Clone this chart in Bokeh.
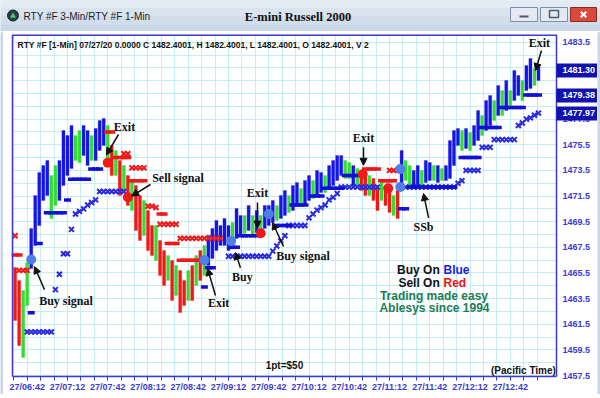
from bokeh.plotting import figure
from bokeh.models import (Range1d, FixedTicker, LinearAxis, Grid, Arrow, NormalHead,
                          ColumnDataSource, NumeralTickFormatter)
from bokeh.layouts import column, row
from bokeh.embed import file_html
from bokeh.resources import INLINE
from bokeh.core.properties import value

# ---------------- data (time = minutes after 06:42, price in points) ----------------
bar_time = [-9, -6, -3, 0, 3, 6, 9, 12, 15, 18, 21, 24, 27, 30, 33, 36, 39, 42, 45, 48,
            51, 54, 57, 60, 63, 66, 69, 72, 75, 78, 81, 84, 87, 90, 93, 96, 99, 102, 105, 108,
            111, 114, 117, 120, 123, 126, 129, 132, 135, 138, 141, 144, 147, 150, 153, 156, 159, 162, 165, 168,
            171, 174, 177, 180, 183, 186, 189, 192, 195, 198, 201, 204, 207, 210, 213, 216, 219, 222, 225, 228,
            231, 234, 237, 240, 243, 246, 249, 252, 255, 258, 261, 264, 267, 270, 273, 276, 279, 282, 285, 288,
            291, 294, 297, 300, 303, 306, 309, 312, 315, 318, 321, 324, 327, 330, 333, 336, 339, 342, 345, 348,
            351, 354, 357, 360, 363, 366, 369, 372, 375, 378, 381]
bar_high = [1465.92, 1464.91, 1464.13, 1466.31, 1468.97, 1471.54, 1473.33, 1473.88, 1474.27, 1473.10,
            1473.88, 1474.27, 1476.61, 1476.22, 1477.00, 1476.22, 1476.61, 1477.00, 1476.61, 1476.22,
            1476.77, 1477.39, 1477.55, 1477.00, 1475.44, 1475.05, 1474.27, 1473.88, 1473.10, 1472.71,
            1472.32, 1471.54, 1471.15, 1470.37, 1469.20, 1469.20, 1468.03, 1467.25, 1466.86, 1466.47,
            1466.08, 1465.69, 1464.91, 1465.69, 1466.08, 1466.86, 1467.25, 1467.64, 1468.42, 1468.97,
            1469.59, 1469.20, 1469.75, 1469.20, 1469.43, 1470.53, 1469.98, 1469.98, 1470.76, 1469.98,
            1470.37, 1469.98, 1470.76, 1470.76, 1471.15, 1470.76, 1471.54, 1471.93, 1471.54, 1472.32,
            1472.55, 1472.09, 1472.71, 1473.10, 1472.71, 1473.49, 1473.33, 1473.10, 1473.88, 1474.27,
            1474.66, 1474.66, 1474.27, 1474.11, 1473.88, 1473.65, 1473.49, 1473.33, 1473.10, 1472.87,
            1472.32, 1472.71, 1472.32, 1471.93, 1471.54, 1471.93, 1475.05, 1474.27, 1473.88, 1473.49,
            1473.88, 1473.49, 1474.27, 1474.11, 1473.88, 1473.88, 1473.65, 1473.88, 1475.83, 1476.61,
            1476.77, 1476.61, 1476.77, 1476.45, 1477.00, 1478.17, 1477.78, 1478.95, 1479.34, 1478.95,
            1480.12, 1479.73, 1480.51, 1479.73, 1481.29, 1480.90, 1480.51, 1481.68, 1482.23, 1481.45,
            1481.68]
bar_low = [1461.79, 1459.84, 1458.90, 1462.96, 1465.85, 1467.64, 1469.20, 1471.15, 1471.54, 1469.75,
           1470.76, 1471.15, 1472.32, 1473.10, 1473.65, 1474.27, 1474.11, 1474.66, 1473.88, 1474.27,
           1474.27, 1475.05, 1475.44, 1474.27, 1473.10, 1473.10, 1471.54, 1471.93, 1470.76, 1470.37,
           1468.81, 1468.03, 1468.42, 1467.25, 1466.86, 1466.47, 1465.30, 1464.52, 1464.91, 1463.35,
           1463.74, 1462.41, 1462.96, 1463.35, 1463.35, 1464.52, 1464.91, 1465.30, 1466.08, 1466.63,
           1467.25, 1467.64, 1467.64, 1467.25, 1467.64, 1468.19, 1468.42, 1468.58, 1468.81, 1468.42,
           1468.65, 1468.42, 1468.97, 1469.20, 1469.43, 1469.59, 1469.75, 1469.98, 1470.21, 1470.37,
           1470.76, 1470.76, 1470.76, 1471.15, 1471.31, 1471.54, 1471.77, 1471.77, 1472.09, 1472.32,
           1472.71, 1473.10, 1472.87, 1472.87, 1472.32, 1472.32, 1471.93, 1471.54, 1471.54, 1471.15,
           1470.37, 1471.15, 1470.76, 1470.21, 1469.98, 1469.75, 1471.93, 1472.71, 1472.32, 1472.09,
           1472.32, 1472.09, 1472.55, 1472.71, 1472.71, 1472.55, 1472.71, 1472.71, 1472.87, 1473.88,
           1475.44, 1475.05, 1475.21, 1475.05, 1475.44, 1475.83, 1476.22, 1476.61, 1477.00, 1477.39,
           1477.78, 1477.78, 1478.17, 1478.56, 1478.95, 1479.34, 1478.95, 1479.73, 1479.89, 1480.12,
           1480.51]
# b = up-trend bar, g = counter bar, r = down-trend bar
bar_trend = list("rrggbbbbbg" "gbbbbggbbg" "bbbgrgrgrg" "rrgrrgrrgr" "grrgrgrgbb"
                 "bbbbgbbgbg" "bgbbbgbbgb" "bgbbgbbgbb" "bbggbgrrgr" "rgrrgrbggb"
                 "bgbbgbgbbb" "bgbgbbgbbg" "bgbgbbgbbg" "b")

blue_dash_t = [3, 9, 15, 18, 21, 24, 27, 30, 33, 36, 39, 42, 45, 48, 51, 54,
               132, 135, 138, 153, 156, 159, 162, 165, 168, 171,
               186, 189, 192, 195, 198, 201, 204, 207, 213, 216, 219,
               222, 225, 228, 231, 234, 237, 240, 243, 246,
               279, 282, 285, 288, 291, 294, 297, 300, 303, 306, 309, 312, 315, 318,
               324, 327, 330, 333, 336, 339, 342, 345, 348, 351,
               354, 357, 360, 363, 366, 369, 372, 375, 378, 381]
blue_dash_p = [1462.4, 1467.8, 1470.2, 1470.2, 1470.2, 1470.2, 1470.2, 1471.2, 1472.8, 1472.8, 1472.8, 1472.8, 1472.8, 1473.6, 1473.6, 1473.6,
               1464.4, 1465.9, 1465.9, 1467.5, 1467.5, 1468.4, 1468.4, 1468.4, 1468.4, 1468.4,
               1469.2, 1469.2, 1469.2, 1469.2, 1470.8, 1470.8, 1470.8, 1470.8, 1471.5, 1471.5, 1471.5,
               1472.1, 1472.1, 1472.1, 1472.1, 1472.1, 1473.1, 1473.1, 1473.1, 1473.1,
               1470.5, 1470.5, 1472.2, 1472.2, 1472.2, 1472.2, 1472.2, 1472.2, 1472.2, 1472.2, 1472.2, 1472.2, 1472.2, 1472.2,
               1474.5, 1474.5, 1474.5, 1474.5, 1474.5, 1476.85, 1476.85, 1476.85, 1476.85, 1476.85,
               1478.4, 1478.4, 1478.4, 1478.4, 1478.4, 1478.4, 1479.38, 1479.38, 1479.38, 1479.38]

blue_x_t = [0, 3, 6, 9, 12, 15, 18, 21, 24, 27, 30, 33, 36, 39, 42, 45, 48, 51,
            54, 57, 60, 63, 66, 69, 72,
            150, 153, 156, 159, 162, 165, 168, 171, 174, 177, 180,
            183, 186, 189, 192, 195, 198, 201, 204, 207,
            210, 213, 216, 219, 222, 225, 228, 231,
            234, 237, 240, 243, 246, 249, 252, 255, 258, 261,
            282, 285, 288, 291, 294, 297, 300, 303, 306, 309, 312, 315, 318,
            321, 324, 327, 330, 333, 336,
            339, 342, 345, 348, 351, 354, 357, 360, 363,
            366, 369, 372, 375, 378, 381]
blue_x_p = [1460.9, 1460.9, 1460.9, 1460.9, 1460.9, 1460.9, 1460.9, 1464.2, 1465.4, 1467.0, 1467.0, 1468.9, 1470.1, 1470.3, 1470.5, 1470.8, 1471.0, 1471.2,
            1471.85, 1471.85, 1471.85, 1471.85, 1471.85, 1471.85, 1471.85,
            1466.8, 1466.8, 1466.8, 1466.8, 1466.8, 1466.8, 1466.8, 1466.8, 1466.8, 1466.8, 1466.8,
            1467.2, 1467.6, 1468.0, 1468.4, 1469.2, 1469.2, 1469.2, 1469.2, 1469.2,
            1469.8, 1470.1, 1470.4, 1470.6, 1470.8, 1471.2, 1471.4, 1471.7,
            1472.2, 1472.2, 1472.2, 1472.2, 1472.2, 1472.2, 1472.2, 1472.2, 1472.2, 1472.2,
            1472.2, 1472.2, 1472.2, 1472.2, 1472.2, 1472.2, 1472.2, 1472.2, 1472.2, 1472.2, 1472.2, 1472.2, 1472.2,
            1472.5, 1472.7, 1473.5, 1473.5, 1473.5, 1473.5,
            1475.3, 1475.3, 1475.3, 1475.9, 1475.9, 1475.9, 1475.9, 1475.9, 1475.9,
            1477.0, 1477.2, 1477.5, 1477.6, 1477.8, 1477.97]

red_x_t = [-9, -6, -3, 0, 72, 75, 78, 81, 84, 87, 90, 93, 96, 99, 102, 105, 108, 111,
           114, 117, 120, 123, 126, 129, 132, 135, 138, 141, 144, 270, 273, 276]
red_x_p = [1468.4, 1465.7, 1465.7, 1465.7, 1474.8, 1474.8, 1473.7, 1473.7, 1473.7, 1473.7, 1470.7, 1470.7, 1470.6, 1469.3, 1469.3, 1469.3, 1469.3, 1469.3,
           1468.2, 1468.2, 1468.2, 1468.2, 1468.2, 1468.2, 1468.2, 1468.2, 1468.2, 1468.2, 1468.2, 1473.5, 1473.5, 1473.5]

red_dash_t = [-9, -6, 60, 63, 66, 69, 72, 75, 78, 81, 84, 87, 99, 102, 105, 108, 111,
              114, 117, 120, 123, 126, 129, 252, 255, 258, 261, 264, 267, 270, 273]
red_dash_p = [1466.9, 1466.9, 1476.5, 1476.5, 1474.5, 1474.5, 1474.5, 1474.5, 1472.7, 1472.7, 1472.7, 1472.7, 1470.1, 1470.1, 1467.8, 1467.8, 1467.8,
              1466.5, 1466.5, 1466.5, 1466.5, 1466.5, 1466.5, 1473.6, 1473.6, 1473.6, 1473.6, 1472.7, 1472.7, 1472.7, 1472.7]

buy_sig_t = [3, 132, 152, 180, 278, 278]
buy_sig_p = [1466.55, 1466.5, 1468.0, 1470.1, 1473.6, 1472.2]
sell_sig_t = [60, 75, 174, 250, 269]
sell_sig_p = [1474.1, 1471.4, 1468.6, 1473.2, 1472.1]

note_text = ["Exit", "Sell signal", "Buy signal", "Exit", "Buy signal", "Buy", "Exit", "Exit", "SSb", "Exit"]
note_t = [72.5, 112.4, 28.9, 171.6, 205.5, 160.4, 142.6, 250.6, 295.3, 381.7]
note_p = [1476.92, 1472.87, 1463.35, 1471.7, 1466.86, 1465.15, 1463.12, 1475.99, 1469.05, 1483.4]
arrow_t0 = [68.0, 91.9, 12.9, 171.6, 191.0, 158.9, 140.3, 250.6, 299.1, 383.2]
arrow_p0 = [1476.3, 1472.4, 1464.2, 1471.0, 1467.56, 1465.9, 1463.74, 1475.3, 1469.8, 1482.85]
arrow_t1 = [59.0, 77.8, 5.4, 171.6, 182.8, 155.2, 134.4, 250.6, 295.3, 378.8]
arrow_p1 = [1474.7, 1471.5, 1466.0, 1469.0, 1469.44, 1467.1, 1465.85, 1473.9, 1471.7, 1481.29]

x_major = [0, 30, 60, 90, 120, 150, 180, 210, 240, 270, 300, 330, 360]
x_labels = ["27/06:42", "27/07:12", "27/07:42", "27/08:12", "27/08:42", "27/09:12", "27/09:42",
            "27/10:12", "27/10:42", "27/11:12", "27/11:42", "27/12:12", "27/12:42"]
x_minor = [-10, 0, 10, 20, 30, 40, 50, 60, 70, 80, 90, 100, 110, 120, 130, 140, 150, 160, 170, 180,
           190, 200, 210, 220, 230, 240, 250, 260, 270, 280, 290, 300, 310, 320, 330, 340, 350, 360, 370, 380]
y_ticks = [1457.5, 1459.5, 1461.5, 1463.5, 1465.5, 1467.5, 1469.5, 1471.5, 1473.5, 1475.5,
           1477.5, 1479.5, 1481.5, 1483.5]
price_boxes = [1481.30, 1479.38, 1477.97]

header = "RTY #F [1-Min] 07/27/20  0.0000 C 1482.4001, H 1482.4001, L 1482.4001, O 1482.4001, V 2"

# ---------------- styles ----------------
BLUE = "#1515e6"
GREEN = "#33dd33"
RED = "#f21818"
AXIS = "#3b3bd4"
GRID = "#c4eef3"
BOX = "#1111b0"
CHROME = "#c9d6e6"
trend_color = {"b": BLUE, "g": GREEN, "r": RED}
SANS = "Liberation Sans"
SERIF = "Liberation Serif"
# the frame spans the whole white window area; the chart itself is X0..X1 x Y0..Y1
XLEFT, X0, X1, XEND = -17.66, -10.95, 394.44, 424.97
YBOT, Y0, Y1 = 1456.02, 1457.42, 1484.1


# ---------------- window chrome ----------------
def strip(w, h):
    s = figure(width=w, height=h, x_axis_type=None, y_axis_type=None, output_backend="svg",
               toolbar_location=None, min_border=0, outline_line_color=None,
               background_fill_color=CHROME, border_fill_color=CHROME)
    s.grid.visible = False
    return s


t = figure(width=600, height=31, x_range=Range1d(0, 600), y_range=Range1d(31, 0),
           x_axis_type=None, y_axis_type=None, output_backend="svg", toolbar_location=None,
           min_border=0, outline_line_color=None,
           background_fill_color="#d3dfec", border_fill_color="#d3dfec")
t.quad(left=[0, 0, 0, 0], right=[600, 600, 600, 600], top=[0, 8, 16, 24], bottom=[8, 16, 24, 31],
       fill_color=["#e3ebf4", "#dae4ef", "#d2ddea", "#cbd8e7"], line_color=None)
t.scatter(x=[12.5], y=[15], marker="circle", size=11, fill_color="#2c3b4d", line_color="#1a2430")
t.scatter(x=[12.5], y=[15.5], marker="triangle", size=6, fill_color="#45d060", line_color=None)
t.text(x=[23], y=[15.5], text=["RTY #F 3-Min/RTY #F 1-Min"], text_font=value(SANS),
       text_font_size="10px", text_baseline="middle", text_color="#1c1c1c")
t.text(x=[297.5], y=[16], text=["E-mini Russell 2000"], text_font=value(SERIF), text_font_style="bold",
       text_font_size="12.5px", text_align="center", text_baseline="middle", text_color="#111111")
t.quad(left=[510, 540], right=[537, 567], top=[7, 7], bottom=[21, 21],
       fill_color="#e3eaf3", line_color="#7d8ea6", line_width=1)
t.quad(left=[519], right=[528], top=[15], bottom=[17], fill_color="#4a5a70", line_color=None)
t.quad(left=[549], right=[558], top=[10], bottom=[17], fill_color=None, line_color="#4a5a70", line_width=1.5)
t.quad(left=[570], right=[596], top=[7], bottom=[21], fill_color="#d94a3b", line_color="#8c2a20", line_width=1)
t.scatter(x=[583], y=[14], marker="x", size=8, line_color="white", line_width=2)

# ---------------- chart ----------------
p = figure(width=594, height=363, x_range=Range1d(XLEFT, XEND), y_range=Range1d(YBOT, Y1),
           x_axis_type=None, y_axis_type=None, output_backend="svg", toolbar_location=None,
           min_border_left=0, min_border_right=0, min_border_top=3, min_border_bottom=0,
           background_fill_color="white", border_fill_color="white", outline_line_color=None)

xax = LinearAxis(ticker=FixedTicker(ticks=x_major, minor_ticks=x_minor),
                 major_label_overrides={k: v for k, v in zip(x_major, x_labels)},
                 bounds=(X0, X1), fixed_location=Y0)
xax.axis_line_color = AXIS
xax.axis_line_width = 1.5
xax.major_tick_line_color = AXIS
xax.minor_tick_line_color = AXIS
xax.major_tick_out = 4
xax.major_tick_in = 0
xax.minor_tick_out = 4
xax.minor_tick_in = 0
xax.major_label_standoff = 1
xax.major_label_text_font = SANS
xax.major_label_text_font_style = "bold"
xax.major_label_text_font_size = "9px"
xax.major_label_text_color = AXIS
p.add_layout(xax, "below")

yax = LinearAxis(ticker=FixedTicker(ticks=y_ticks, minor_ticks=[]),
                 formatter=NumeralTickFormatter(format="0.0"), fixed_location=X1, bounds=(Y0, Y1))
yax.axis_line_color = AXIS
yax.axis_line_width = 1.5
yax.major_tick_out = 0
yax.major_tick_in = 0
yax.minor_tick_out = 0
yax.minor_tick_in = 0
yax.major_label_standoff = 6
yax.major_label_text_font = SANS
yax.major_label_text_font_style = "bold"
yax.major_label_text_font_size = "9px"
yax.major_label_text_color = AXIS
p.add_layout(yax, "right")

# last-value boxes: a second pinned axis whose ticks are drawn as filled bars
box_ax = LinearAxis(ticker=FixedTicker(ticks=price_boxes, minor_ticks=[]),
                    formatter=NumeralTickFormatter(format="0.00"), fixed_location=X1)
box_ax.axis_line_color = None
box_ax.major_tick_line_color = BOX
box_ax.major_tick_line_width = 14
box_ax.major_tick_out = 41
box_ax.major_tick_in = 0
box_ax.minor_tick_out = 0
box_ax.minor_tick_in = 0
box_ax.major_label_standoff = -35
box_ax.major_label_text_font = SANS
box_ax.major_label_text_font_style = "bold"
box_ax.major_label_text_font_size = "9px"
box_ax.major_label_text_color = "white"
p.add_layout(box_ax, "right")

y_minor = [v + 1 for v in y_ticks[:-1]]
p.add_layout(Grid(dimension=0, ticker=FixedTicker(ticks=x_minor), grid_line_color=GRID))
p.add_layout(Grid(dimension=1, ticker=FixedTicker(ticks=y_ticks, minor_ticks=y_minor),
                  grid_line_color=GRID, minor_grid_line_color=GRID))
# blank margins around the chart area (hide grid lines outside it)
p.quad(left=[X1, XLEFT, XLEFT], right=[XEND, XEND, X0], bottom=[YBOT, YBOT, YBOT], top=[Y1, Y0, Y1],
       fill_color="white", line_color=None)

src = ColumnDataSource(dict(t=bar_time, hi=bar_high, lo=bar_low,
                            col=[trend_color[c] for c in bar_trend]))
p.vbar(x="t", top="hi", bottom="lo", width=2.3, fill_color="col", line_color="col", line_width=0.3, source=src)

p.scatter(blue_x_t, blue_x_p, marker="x", size=7, line_color="#2a2ae0", line_width=2)
p.scatter(red_x_t, red_x_p, marker="x", size=7, line_color=RED, line_width=2)
p.scatter(blue_dash_t, blue_dash_p, marker="dash", size=7, line_color="#1010d8", line_width=3.5)
p.scatter(red_dash_t, red_dash_p, marker="dash", size=7, line_color=RED, line_width=3.5)
p.scatter(buy_sig_t, buy_sig_p, marker="circle", size=10, fill_color="#4d7fe6", line_color=None)
p.scatter(sell_sig_t, sell_sig_p, marker="circle", size=10, fill_color="#ee1a1a", line_color=None)

p.text(x=[-7.2], y=[1483.3], text=[header], text_font=value(SANS), text_font_style="bold",
       text_font_size="8.5px", text_baseline="middle", text_color="#111111")

p.text(x=note_t, y=note_p, text=note_text, text_font=value(SERIF), text_font_style="bold",
       text_font_size="12px", text_align="center", text_baseline="middle", text_color="#111111")
arrows = ColumnDataSource(dict(x0=arrow_t0, y0=arrow_p0, x1=arrow_t1, y1=arrow_p1))
p.add_layout(Arrow(end=NormalHead(size=7, fill_color="#111111", line_color="#111111", line_width=1),
                   source=arrows, x_start="x0", y_start="y0", x_end="x1", y_end="y1",
                   line_color="#111111", line_width=1.5))

p.text(x=[307.4, 307.4], y=[1465.77, 1464.68], text=["Buy On", "Sell On"], text_font=value(SANS),
       text_font_style="bold", text_font_size="12px", text_align="right", text_baseline="middle",
       text_color="#111111")
p.text(x=[310.2], y=[1465.77], text=["Blue"], text_font=value(SANS), text_font_style="bold",
       text_font_size="12px", text_align="left", text_baseline="middle", text_color="#1a1ae8")
p.text(x=[310.2], y=[1464.68], text=["Red"], text_font=value(SANS), text_font_style="bold",
       text_font_size="12px", text_align="left", text_baseline="middle", text_color="#ee1111")
p.text(x=[303.1, 303.5], y=[1463.74, 1462.73], text=["Trading made easy", "Ablesys since 1994"],
       text_font=value(SANS), text_font_style="bold", text_font_size="12px", text_align="center",
       text_baseline="middle", text_color="#1b7d55")
p.text(x=[191.7], y=[1458.28], text=["1pt=$50"], text_font=value(SANS), text_font_style="bold",
       text_font_size="10px", text_align="center", text_baseline="middle", text_color="#111111")
p.text(x=[369.8], y=[1457.89], text=["(Pacific Time)"], text_font=value(SANS), text_font_style="bold",
       text_font_size="10px", text_align="center", text_baseline="middle", text_color="#111111")

# chart-area border on the left and top (right and bottom come from the axes)
p.segment(x0=[X0, X0], y0=[Y0, Y1], x1=[X0, X1], y1=[Y1, Y1], line_color=AXIS, line_width=[1.5, 3])

layout = column(t, row(strip(3, 363), p, strip(3, 363)), strip(600, 4))
open("out.html", "w").write(file_html(layout, INLINE))
